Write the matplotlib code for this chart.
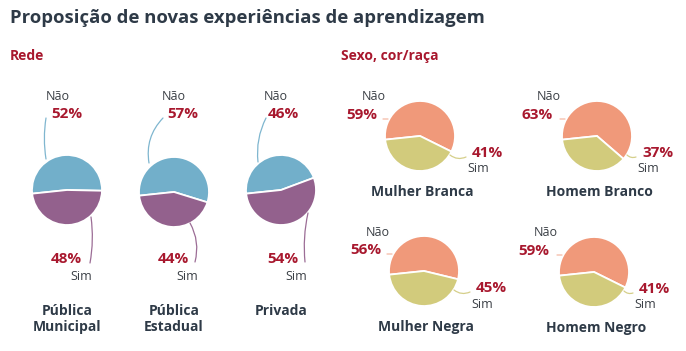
import matplotlib
matplotlib.use("Agg")
import matplotlib.pyplot as plt

# data
rede_cats = ["Pública\nMunicipal", "Pública\nEstadual", "Privada"]
rede_nao = [52, 57, 46]
rede_sim = [48, 44, 54]

grupo_cats = ["Mulher Branca", "Homem Branco", "Mulher Negra", "Homem Negro"]
grupo_nao = [59, 63, 56, 59]
grupo_sim = [41, 37, 45, 41]

# layout (pixels)
W, H = 686, 351
R = 35
rede_cx = [67, 174, 281]
rede_cy = [190, 192, 190]
grupo_cx = [420, 597, 424, 594]
grupo_cy = [136, 136, 271, 272]

BLUE, PURPLE = "#72afca", "#93618d"
SALMON, OLIVE = "#f0997a", "#d2cb7c"
RED = "#a8182e"
DARK = "#2e3a47"
GRAY = "#3a3f45"
FONT = "Open Sans"

fig = plt.figure(figsize=(W / 100, H / 100), dpi=100)


def add_pie(cx, cy, nao, sim, colors):
    ax = fig.add_axes([(cx - R) / W, 1 - (cy + R) / H, 2 * R / W, 2 * R / H])
    frac = nao / (nao + sim)
    ax.pie([nao, sim], colors=colors, startangle=186 - 360 * frac,
           counterclock=True, radius=1,
           wedgeprops=dict(edgecolor="white", linewidth=1.3))
    ax.set_xlim(-1, 1)
    ax.set_ylim(-1, 1)
    ax.axis("off")


for i in range(3):
    add_pie(rede_cx[i], rede_cy[i], rede_nao[i], rede_sim[i], [BLUE, PURPLE])
for i in range(4):
    add_pie(grupo_cx[i], grupo_cy[i], grupo_nao[i], grupo_sim[i], [SALMON, OLIVE])

# overlay in pixel coordinates for text and leader lines
ov = fig.add_axes([0, 0, 1, 1], zorder=5)
ov.set_xlim(0, W)
ov.set_ylim(H, 0)
ov.axis("off")
ov.patch.set_alpha(0)


def txt(x, y, s, **kw):
    kw.setdefault("family", FONT)
    kw.setdefault("va", "center")
    ov.text(x, y, s, **kw)


def leader(p0, p1, color, rad=0.0):
    ov.annotate("", xy=p1, xytext=p0,
                arrowprops=dict(arrowstyle="-", color=color, lw=0.9,
                                shrinkA=0, shrinkB=0,
                                connectionstyle=f"arc3,rad={rad}"))


txt(10, 18, "Proposição de novas experiências de aprendizagem",
    fontsize=13.3, fontweight="bold", color=DARK)
txt(10, 56, "Rede", fontsize=10, fontweight="bold", color=RED)
txt(341, 56, "Sexo, cor/raça", fontsize=10, fontweight="bold", color=RED)

# Rede labels
nao_txt_x = [46, 162, 264]
nao_pct_x = [51, 167, 268]
nao_lines = [((46, 118), (46, 159), 0.08), ((163, 118), (149, 163), 0.25),
             ((266, 118), (258, 162), 0.15)]
sim_pct_x = [51, 158, 267]
sim_txt_x = [70, 176, 285]
sim_lines = [((90, 263), (91, 217), 0.08), ((195, 262), (190, 223), 0.2),
             ((305, 262), (308, 213), -0.08)]
for i in range(3):
    txt(nao_txt_x[i], 96, "Não", fontsize=9, color=GRAY)
    txt(nao_pct_x[i], 114, f"{rede_nao[i]}%", fontsize=11, fontweight="bold", color=RED)
    txt(sim_pct_x[i], 259, f"{rede_sim[i]}%", fontsize=11, fontweight="bold", color=RED)
    txt(sim_txt_x[i], 277, "Sim", fontsize=9, color=GRAY)
    p0, p1, rad = nao_lines[i]
    leader(p0, p1, "#7fb6cf", rad)
    p0, p1, rad = sim_lines[i]
    leader(p0, p1, "#9c6d96", rad)
    for j, line in enumerate(rede_cats[i].split("\n")):
        txt(rede_cx[i], 311 + 16 * j, line, ha="center",
            fontsize=10, fontweight="bold", color=DARK)

# Grupo labels
for i in range(4):
    cx, cy = grupo_cx[i], grupo_cy[i]
    right = i % 2 == 1
    txt(cx - 58 + (0 if not right else -2), cy - 39, "Não", fontsize=9, color=GRAY)
    txt(cx - 74 + (0 if not right else -2), cy - 21, f"{grupo_nao[i]}%",
        fontsize=11, fontweight="bold", color=RED)
    txt(cx + 52 if not right else cx + 45, cy + 17, f"{grupo_sim[i]}%",
        fontsize=11, fontweight="bold", color=RED)
    txt(cx + 47 if not right else cx + 40, cy + 33, "Sim", fontsize=9, color=GRAY)
    leader((cx - 37, cy - 17), (cx - 32, cy - 17), "#f5b9a4")
    leader((cx + 30, cy + 19), (cx + 46 if not right else cx + 39, cy + 21), "#d5cf8a", 0.3)
    txt(cx + 2, cy + 56, grupo_cats[i], ha="center",
        fontsize=10, fontweight="bold", color=DARK)

fig.savefig("out.png", dpi=100)
